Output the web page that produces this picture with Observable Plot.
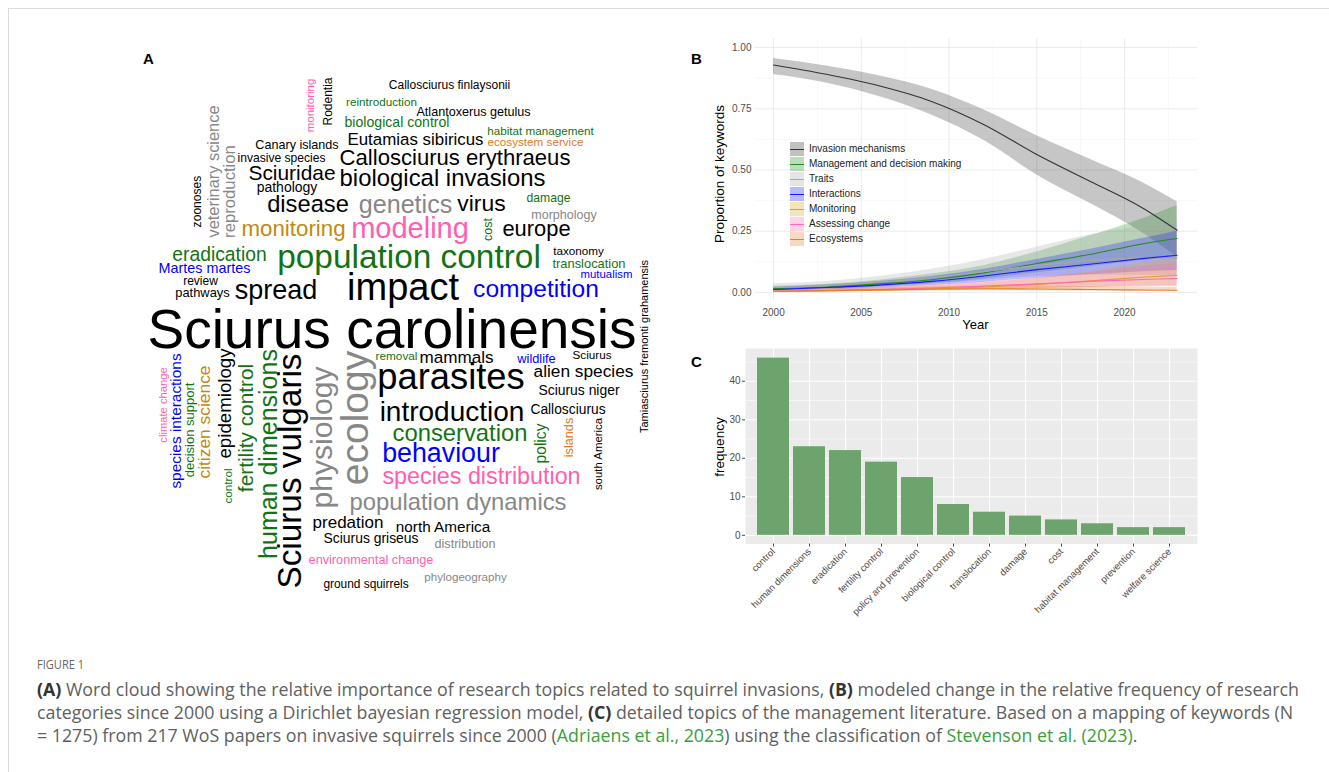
<!DOCTYPE html>
<html><head><meta charset="utf-8">
<script src="https://cdn.jsdelivr.net/npm/d3@7"></script>
<script src="https://cdn.jsdelivr.net/npm/@observablehq/plot@0.6"></script>
<style>
html,body{margin:0;padding:0;background:#fff;}
body{width:1329px;height:772px;overflow:hidden;position:relative;font-family:"Liberation Sans",Arial,sans-serif;}
#frame{position:absolute;left:8px;top:8px;width:1400px;height:900px;border-left:1px solid #dcdcdc;border-top:1px solid #dcdcdc;}
.abs{position:absolute;}
.plabel{position:absolute;font-weight:bold;font-size:15px;line-height:15px;color:#000;}
.axl{position:absolute;font-size:13.5px;line-height:14px;color:#000;white-space:nowrap;transform:translate(-50%,-50%);}
.rot{transform:translate(-50%,-50%) rotate(-90deg);}
.leg{position:absolute;font-size:10px;line-height:12px;color:#222;white-space:nowrap;}
.key{position:absolute;width:14px;height:14px;}
.key i{position:absolute;left:0;right:0;top:6.5px;height:1.2px;}
.cl{position:absolute;left:37px;white-space:nowrap;font-family:"Open Sans","Noto Sans",sans-serif;font-size:17.5px;line-height:20px;color:#5f5f5f;transform-origin:0 50%;}
.cl b{color:#333;}
.lk{color:#3a9e3a;}
.fig{position:absolute;left:37px;top:656px;font-family:"Open Sans","Noto Sans",sans-serif;font-size:13px;line-height:16px;color:#666;transform-origin:0 50%;transform:scaleX(0.85);}
</style></head>
<body>
<div id="frame"></div>
<div class="plabel" style="left:143px;top:51px;">A</div>
<div class="plabel" style="left:691px;top:51px;">B</div>
<div class="plabel" style="left:691px;top:354px;">C</div>
<div id="cloud" class="abs" style="left:140px;top:70px;"></div>
<div id="panelB" class="abs" style="left:700px;top:30px;"></div>
<div id="panelC" class="abs" style="left:690px;top:340px;"></div>
<div class="axl rot" style="left:720px;top:174px;">Proportion of keywords</div>
<div class="axl" style="left:975.5px;top:325px;font-size:13px;">Year</div>
<div class="axl rot" style="left:720px;top:447px;">frequency</div>
<div id="legend"></div>
<div class="fig">FIGURE 1</div>
<div class="cl" id="cap1" style="top:679px;"><b>(A)</b> Word cloud showing the relative importance of research topics related to squirrel invasions, <b>(B)</b> modeled change in the relative frequency of research</div>
<div class="cl" style="top:702px;">categories since 2000 using a Dirichlet bayesian regression model, <b>(C)</b> detailed topics of the management literature. Based on a mapping of keywords (N</div>
<div class="cl" style="top:725px;">= 1275) from 217 WoS papers on invasive squirrels since 2000 (<span class="lk">Adriaens et al., 2023</span>) using the classification of <span class="lk">Stevenson et al. (2023)</span>.</div>
<script>
// ---------- Categories (shared by A and B) ----------
const seriesNames = ["Invasion mechanisms","Management and decision making","Traits","Interactions","Monitoring","Assessing change","Ecosystems"];
const seriesColors = ["#333333","#228b22","#a8a8a8","#1a1aff","#d9a520","#ff69b4","#e2802a"];
const cloudColors  = ["#000000","#137313","#878787","#0000ff","#c08a10","#ff5fae","#e07b28"];

// ---------- Panel A: word cloud ----------
const cloudWords = ["Sciurus carolinensis","population control","impact","parasites","ecology","Sciurus vulgaris","physiology","modeling","introduction","spread",
 "behaviour","genetics","human dimensions","competition","biological invasions","conservation","population dynamics","disease","species distribution","virus",
 "monitoring","Callosciurus erythraeus","europe","Sciuridae","fertility control","eradication","epidemiology","citizen science","alien species","mammals",
 "predation","Eutamias sibiricus","reproduction","veterinary science","policy","species interactions","north America","Martes martes","biological control","pathology",
 "Sciurus niger","Sciurus griseus","Callosciurus","Tamiasciurus fremonti grahamensis","decision support","translocation","pathways","wildlife","islands","environmental change",
 "Atlantoxerus getulus","Canary islands","distribution","morphology","cost","damage","invasive species","zoonoses","Rodentia","review",
 "Callosciurus finlaysonii","ground squirrels","removal","reintroduction","habitat management","ecosystem service","taxonomy","Sciurus","control","phylogeography",
 "monitoring","south America","mutualism","climate change"];
const cloudWeights = [55,33.4,38,36.3,39,33.3,30,29,28,27,
 26.8,25.1,25,24.6,23.9,23.8,23.8,23.7,23.3,22.9,
 22.3,22.1,21.9,20.9,20.8,19.3,18.7,17.4,17.3,17.1,
 17,16.9,16.7,16.4,15.6,15.4,15.3,14.4,14.1,14,
 13.9,13.9,13.8,11,13,12.9,12.9,12.8,12.7,12.7,
 12.6,12.6,12.6,12.5,12.5,12.2,12.1,12.1,12,12,
 12,11.9,11.8,11.7,11.7,11.7,11.7,11.7,11.7,11.6,
 11.5,11.4,11.4,11.2];
const cloudGroups = [0,1,0,0,2,0,2,5,0,0,
 3,2,1,3,0,1,2,0,5,0,
 4,0,0,0,1,1,0,4,0,0,
 0,0,2,2,1,3,0,3,1,0,
 0,0,0,0,1,1,0,3,6,5,
 0,0,2,2,1,1,0,0,0,0,
 0,0,1,1,1,6,0,0,1,2,
 5,0,3,5];
// word-cloud layout (placement found by the cloud algorithm), in the panel's own units
const cloudX = [391.5,408.5,402.5,450.5,355,290,321.7,409.5,451.5,275.5,
 440.5,405,268,535.5,442,459.5,457.5,307.5,481,481,
 293,454.5,536,291.5,246,219,225,204,583,456,
 347.5,415,229,213,540,176,442.5,204,396.5,286.5,
 578.5,370.5,567.5,644,189.3,588.5,202,536,568,370.5,
 473,296.5,464.5,563.5,487,548,281,196.7,327.7,200,
 449,365.5,396,381,540,535,578,591.5,228,465,
 310,598,606,162.7];
const cloudY = [330,257,287,377,417.5,470.5,437,228,412,290,
 453,204,453.5,289,178,433,502,204,476,203,
 228,157,228,173,427.5,254,403,421.5,371,357,
 522,139,191,171,443,420.5,527,268,122,187,
 390,538,409,346,429.5,263,292,358,437,559,
 111,144,543,214,229,198,158,201,101,281,
 85,584,356,102,131,142,251,355,485.5,577,
 105,453.5,274,404.5];
const cloudVertical = [0,0,0,0,1,1,1,0,0,0,
 0,0,1,0,0,0,0,0,0,0,
 0,0,0,0,1,0,1,1,0,0,
 0,0,1,1,1,1,0,0,0,0,
 0,0,0,1,1,0,0,0,1,0,
 0,0,0,0,1,0,0,1,1,0,
 0,0,0,0,0,0,0,0,1,0,
 1,1,0,1];

const cloud = cloudWords.map((w,i)=>({word:w, weight:cloudWeights[i], group:seriesNames[cloudGroups[i]], x:cloudX[i], y:cloudY[i], rot:cloudVertical[i]? -90:0}));
const sizeScale = d3.scaleLinear().domain([0,55]).range([0,55]);

document.getElementById("cloud").append(Plot.plot({
  width:510, height:530, margin:0,
  style:{background:"transparent", overflow:"visible"},
  x:{domain:[140,650], range:[0,510], axis:null},
  y:{domain:[70,600], range:[0,530], axis:null},
  color:{domain:seriesNames, range:cloudColors},
  marks:[
    Plot.text(cloud,{x:"x", y:"y", text:"word", fill:"group", rotate:"rot",
      fontSize:d=>sizeScale(d.weight), fontFamily:"Liberation Sans, Arial, sans-serif",
      textAnchor:"middle", lineAnchor:"middle"})
  ]
}));

// ---------- Panel B: modelled proportions ----------
const years = [2000,2003,2006,2009,2012,2015,2018,2021,2023];
const invasionMid = [0.929,0.891,0.844,0.780,0.685,0.563,0.455,0.346,0.254];
const invasionLo  = [0.890,0.855,0.800,0.725,0.620,0.480,0.365,0.245,0.145];
const invasionHi  = [0.955,0.925,0.885,0.830,0.745,0.640,0.545,0.450,0.370];
const managementMid = [0.015,0.022,0.035,0.052,0.080,0.118,0.155,0.198,0.220];
const managementLo  = [0.008,0.013,0.022,0.035,0.055,0.080,0.105,0.130,0.140];
const managementHi  = [0.025,0.033,0.050,0.075,0.110,0.165,0.230,0.300,0.355];
const traitsMid = [0.020,0.028,0.042,0.060,0.085,0.110,0.130,0.140,0.140];
const traitsLo  = [0.010,0.015,0.025,0.035,0.050,0.065,0.070,0.070,0.065];
const traitsHi  = [0.035,0.045,0.065,0.095,0.135,0.185,0.235,0.270,0.290];
const interactionsMid = [0.012,0.020,0.030,0.045,0.067,0.093,0.115,0.138,0.152];
const interactionsLo  = [0.006,0.011,0.018,0.028,0.042,0.058,0.072,0.085,0.090];
const interactionsHi  = [0.020,0.030,0.045,0.065,0.095,0.135,0.175,0.220,0.250];
const monitoringMid = [0.004,0.006,0.009,0.014,0.022,0.033,0.047,0.062,0.070];
const monitoringLo  = [0.001,0.002,0.004,0.006,0.010,0.015,0.020,0.025,0.027];
const monitoringHi  = [0.010,0.013,0.018,0.027,0.040,0.058,0.085,0.120,0.145];
const assessingMid = [0.005,0.008,0.012,0.018,0.026,0.035,0.045,0.053,0.057];
const assessingLo  = [0.002,0.003,0.005,0.008,0.012,0.016,0.020,0.023,0.024];
const assessingHi  = [0.012,0.016,0.022,0.032,0.045,0.060,0.080,0.105,0.120];
const ecosystemsMid = [0.005,0.008,0.011,0.014,0.015,0.014,0.012,0.010,0.009];
const ecosystemsLo  = [0.002,0.003,0.005,0.007,0.007,0.006,0.005,0.004,0.003];
const ecosystemsHi  = [0.011,0.015,0.019,0.023,0.025,0.025,0.024,0.022,0.021];
const xTicksB = [2000,2005,2010,2015,2020];
const xMinorB = [2002.5,2007.5,2012.5,2017.5,2022.5];
const yTicksB = [0,0.25,0.5,0.75,1];
const yMinorB = [0.125,0.375,0.625,0.875];

const mids = [invasionMid,managementMid,traitsMid,interactionsMid,monitoringMid,assessingMid,ecosystemsMid];
const los  = [invasionLo,managementLo,traitsLo,interactionsLo,monitoringLo,assessingLo,ecosystemsLo];
const his  = [invasionHi,managementHi,traitsHi,interactionsHi,monitoringHi,assessingHi,ecosystemsHi];
const bRows = [];
seriesNames.forEach((s,k)=>years.forEach((yr,i)=>bRows.push({series:s, year:yr, mid:mids[k][i], lo:los[k][i], hi:his[k][i]})));

const baseStyle = {fontFamily:"Liberation Sans, Arial, sans-serif", fontSize:"10px", color:"#4d4d4d", background:"transparent", overflow:"visible"};

document.getElementById("panelB").append(Plot.plot({
  width:510, height:300, marginLeft:55, marginRight:13, marginTop:8, marginBottom:29,
  style:baseStyle,
  x:{domain:[1998.97,2024.16]},
  y:{domain:[-0.037,1.037]},
  color:{domain:seriesNames, range:seriesColors},
  marks:[
    Plot.ruleY(yMinorB,{stroke:"#f3f3f3", strokeWidth:0.6}),
    Plot.ruleX(xMinorB,{stroke:"#f3f3f3", strokeWidth:0.6}),
    Plot.ruleY(yTicksB,{stroke:"#ebebeb", strokeWidth:1}),
    Plot.ruleX(xTicksB,{stroke:"#ebebeb", strokeWidth:1}),
    Plot.areaY(bRows,{x:"year", y1:"lo", y2:"hi", fill:"series", fillOpacity:0.28, curve:"monotone-x"}),
    Plot.line(bRows,{x:"year", y:"mid", stroke:"series", strokeWidth:1.1, curve:"monotone-x"}),
    Plot.axisX({ticks:xTicksB, tickSize:0, tickPadding:7, tickFormat:d=>String(d), label:null}),
    Plot.axisY({ticks:yTicksB, tickSize:0, tickPadding:4, tickFormat:d3.format(".2f"), label:null})
  ]
}));

// legend for B
const leg = document.getElementById("legend");
seriesNames.forEach((s,k)=>{
  const cy = 149.3 + k*15;
  const key = document.createElement("div");
  key.className = "key";
  key.style.left = "790px"; key.style.top = (cy-7)+"px";
  key.style.background = d3.color(seriesColors[k]).copy({opacity:0.3}).formatRgb();
  const ln = document.createElement("i"); ln.style.background = seriesColors[k];
  key.append(ln); leg.append(key);
  const t = document.createElement("div");
  t.className = "leg"; t.textContent = s;
  t.style.left = "809px"; t.style.top = (cy-6.5)+"px";
  leg.append(t);
});

// ---------- Panel C: management topics ----------
const topics = ["control","human dimensions","eradication","fertility control","policy and prevention","biological control","translocation","damage","cost","habitat management","prevention","welfare science"];
const freqs = [46,23,22,19,15,8,6,5,4,3,2,2];
const yTicksC = [0,10,20,30,40];
const yMinorC = [5,15,25,35,45];
const cRows = topics.map((t,i)=>({topic:t, freq:freqs[i]}));

document.getElementById("panelC").append(Plot.plot({
  width:520, height:300, marginLeft:55, marginRight:13, marginTop:8, marginBottom:96.5,
  style:baseStyle,
  x:{domain:topics, paddingInner:0.1, paddingOuter:0.175},
  y:{domain:[-2.25,48.5]},
  marks:[
    Plot.frame({fill:"#ebebeb", stroke:null}),
    Plot.ruleY(yMinorC,{stroke:"#ffffff", strokeWidth:0.55}),
    Plot.ruleY(yTicksC,{stroke:"#ffffff", strokeWidth:1.1}),
    Plot.ruleX(topics,{x:d=>d, stroke:"#ffffff", strokeWidth:1.1}),
    Plot.barY(cRows,{x:"topic", y:"freq", fill:"#6da36d"}),
    Plot.axisY({ticks:yTicksC, tickSize:3, tickPadding:2, label:null}),
    Plot.axisX({tickSize:3, tickPadding:3, tickRotate:-45, label:null, fontSize:9.5})
  ]
}));

// caption: one common horizontal scale so the first line spans the figure width
const cap1 = document.getElementById("cap1");
const w1 = cap1.getBoundingClientRect().width;
const k = w1 > 0 ? 1262 / w1 : 1;
document.querySelectorAll(".cl").forEach(el=>{ el.style.transform = `scaleX(${k})`; });
</script>
</body></html>
